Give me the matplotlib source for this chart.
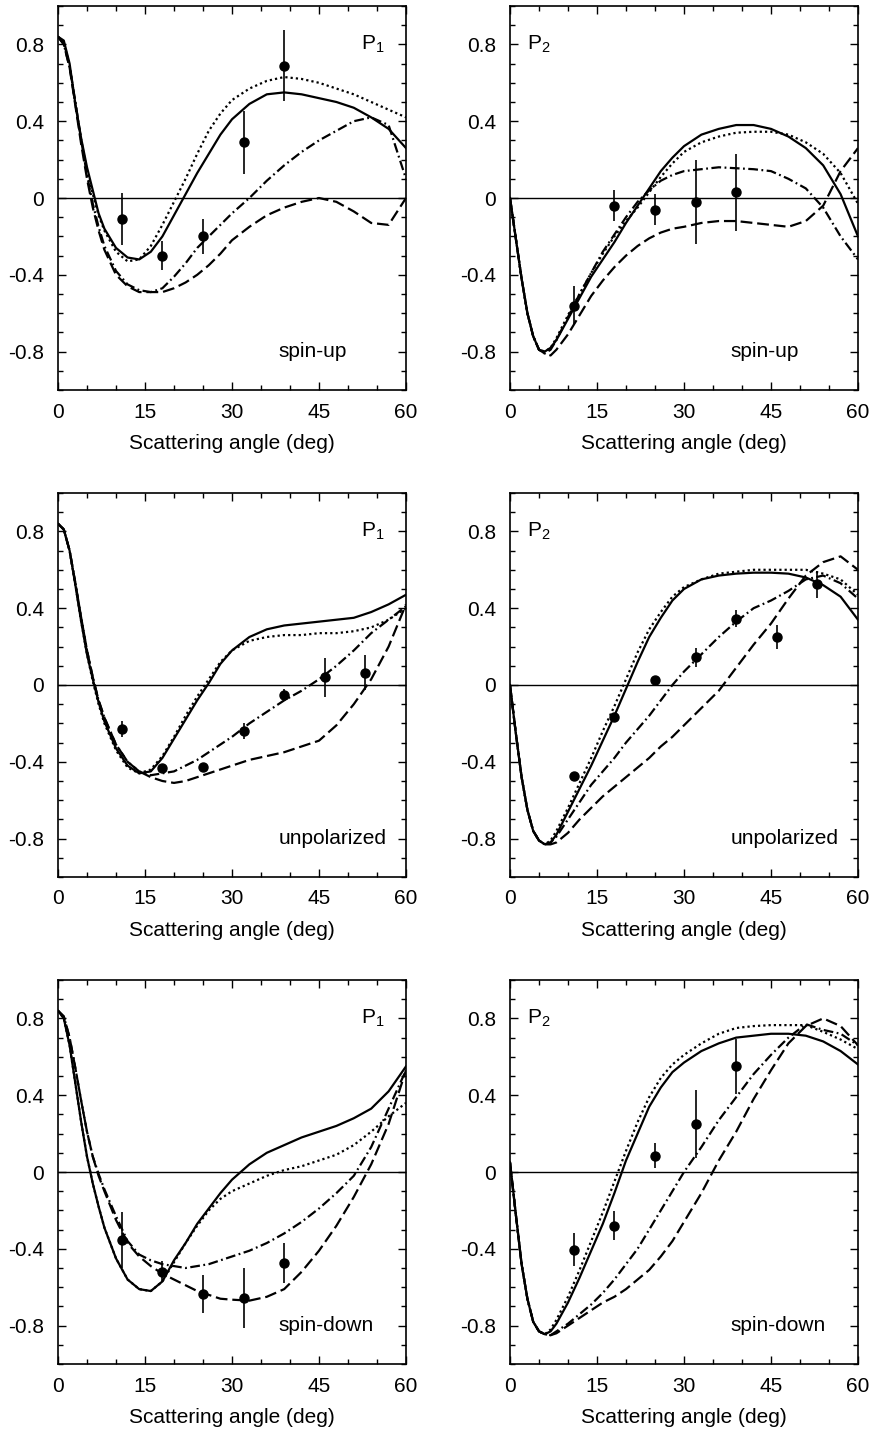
import matplotlib
matplotlib.use("Agg")
import matplotlib.pyplot as plt
from matplotlib.ticker import MultipleLocator

plt.rcParams['font.family'] = ['Liberation Sans', 'DejaVu Sans']
plt.rcParams['axes.unicode_minus'] = False
plt.rcParams['lines.scale_dashes'] = False

ang = [0, 1, 2, 3, 4, 5, 6, 7, 8, 10, 12, 14, 16, 18, 20, 22, 24, 26, 28, 30,
       33, 36, 39, 42, 45, 48, 51, 54, 57, 60]

# ---- spin-up, P1
up1_solid = [0.84, 0.82, 0.70, 0.49, 0.31, 0.16, 0.04, -0.08, -0.16, -0.26, -0.31, -0.32, -0.28, -0.20,
             -0.09, 0.02, 0.13, 0.23, 0.33, 0.41, 0.49, 0.54, 0.55, 0.54, 0.52, 0.50, 0.47, 0.42, 0.36, 0.26]
up1_dot = [0.84, 0.81, 0.69, 0.49, 0.30, 0.14, 0.02, -0.09, -0.17, -0.28, -0.33, -0.32, -0.25, -0.14,
           -0.02, 0.10, 0.23, 0.35, 0.44, 0.51, 0.57, 0.61, 0.63, 0.62, 0.60, 0.57, 0.54, 0.50, 0.46, 0.42]
up1_dashdot = [0.84, 0.80, 0.68, 0.50, 0.30, 0.12, -0.03, -0.15, -0.25, -0.38, -0.45, -0.48, -0.49, -0.47,
               -0.41, -0.34, -0.26, -0.20, -0.14, -0.08, 0.00, 0.09, 0.17, 0.24, 0.30, 0.35, 0.40, 0.42, 0.38, 0.10]
up1_dash = [0.84, 0.80, 0.68, 0.48, 0.28, 0.10, -0.05, -0.17, -0.27, -0.40, -0.46, -0.49, -0.49, -0.49,
            -0.47, -0.44, -0.40, -0.35, -0.29, -0.22, -0.15, -0.09, -0.05, -0.02, 0.00, -0.02, -0.07, -0.13, -0.14, 0.00]

# ---- spin-up, P2
up2_solid = [0.00, -0.21, -0.42, -0.60, -0.72, -0.79, -0.80, -0.78, -0.74, -0.63, -0.52, -0.41, -0.32, -0.23,
             -0.13, -0.04, 0.05, 0.14, 0.21, 0.27, 0.33, 0.36, 0.38, 0.38, 0.36, 0.32, 0.26, 0.17, 0.02, -0.20]
up2_dot = [0.00, -0.21, -0.42, -0.60, -0.72, -0.79, -0.80, -0.78, -0.73, -0.61, -0.50, -0.39, -0.29, -0.20,
           -0.12, -0.05, 0.03, 0.11, 0.18, 0.24, 0.29, 0.32, 0.34, 0.345, 0.345, 0.33, 0.29, 0.23, 0.13, -0.03]
up2_dashdot = [0.00, -0.21, -0.42, -0.60, -0.72, -0.79, -0.81, -0.79, -0.74, -0.62, -0.50, -0.39, -0.28, -0.19,
               -0.10, -0.02, 0.04, 0.09, 0.12, 0.14, 0.15, 0.16, 0.155, 0.15, 0.14, 0.10, 0.05, -0.05, -0.20, -0.32]
up2_dash = [0.00, -0.21, -0.42, -0.60, -0.72, -0.79, -0.81, -0.82, -0.79, -0.71, -0.61, -0.51, -0.43, -0.36,
            -0.30, -0.25, -0.21, -0.18, -0.16, -0.15, -0.13, -0.12, -0.12, -0.13, -0.14, -0.15, -0.12, -0.04, 0.14, 0.26]

# ---- unpolarized, P1
un1_solid = [0.84, 0.81, 0.70, 0.52, 0.33, 0.16, 0.03, -0.09, -0.19, -0.33, -0.42, -0.46, -0.45, -0.38,
             -0.28, -0.18, -0.08, 0.01, 0.11, 0.18, 0.25, 0.29, 0.31, 0.32, 0.33, 0.34, 0.35, 0.38, 0.42, 0.47]
un1_dot = [0.84, 0.81, 0.70, 0.52, 0.33, 0.16, 0.02, -0.10, -0.20, -0.34, -0.43, -0.46, -0.44, -0.37,
           -0.27, -0.16, -0.06, 0.03, 0.12, 0.18, 0.23, 0.25, 0.26, 0.26, 0.27, 0.27, 0.28, 0.30, 0.34, 0.40]
un1_dashdot = [0.84, 0.81, 0.70, 0.53, 0.35, 0.18, 0.04, -0.08, -0.17, -0.31, -0.40, -0.45, -0.47, -0.46,
               -0.45, -0.42, -0.39, -0.35, -0.31, -0.27, -0.20, -0.14, -0.08, -0.03, 0.03, 0.10, 0.18, 0.27, 0.34, 0.41]
un1_dash = [0.84, 0.81, 0.70, 0.53, 0.35, 0.18, 0.04, -0.08, -0.17, -0.31, -0.40, -0.45, -0.48, -0.50,
            -0.51, -0.50, -0.48, -0.46, -0.44, -0.42, -0.39, -0.37, -0.35, -0.32, -0.29, -0.21, -0.10, 0.03, 0.20, 0.42]

# ---- unpolarized, P2
un2_solid = [0.00, -0.25, -0.48, -0.65, -0.76, -0.81, -0.83, -0.82, -0.78, -0.66, -0.54, -0.42, -0.29, -0.16,
             -0.02, 0.12, 0.25, 0.35, 0.44, 0.50, 0.55, 0.57, 0.58, 0.585, 0.585, 0.58, 0.56, 0.52, 0.46, 0.34]
un2_dot = [0.00, -0.25, -0.48, -0.65, -0.76, -0.81, -0.83, -0.81, -0.76, -0.64, -0.51, -0.38, -0.24, -0.11,
           0.03, 0.17, 0.29, 0.38, 0.46, 0.51, 0.55, 0.58, 0.59, 0.60, 0.60, 0.60, 0.60, 0.58, 0.55, 0.47]
un2_dashdot = [0.00, -0.25, -0.48, -0.65, -0.76, -0.81, -0.83, -0.82, -0.79, -0.70, -0.61, -0.52, -0.45, -0.38,
               -0.30, -0.23, -0.16, -0.08, 0.00, 0.07, 0.16, 0.25, 0.33, 0.40, 0.44, 0.49, 0.55, 0.57, 0.53, 0.45]
un2_dash = [0.00, -0.25, -0.48, -0.65, -0.76, -0.81, -0.83, -0.83, -0.82, -0.77, -0.70, -0.64, -0.58, -0.53,
            -0.48, -0.43, -0.38, -0.32, -0.27, -0.21, -0.12, -0.03, 0.09, 0.21, 0.32, 0.45, 0.57, 0.64, 0.67, 0.60]

# ---- spin-down, P1
dn1_solid = [0.84, 0.80, 0.66, 0.46, 0.26, 0.08, -0.06, -0.18, -0.29, -0.45, -0.56, -0.61, -0.62, -0.57,
             -0.46, -0.37, -0.27, -0.19, -0.11, -0.04, 0.04, 0.10, 0.14, 0.18, 0.21, 0.24, 0.28, 0.33, 0.42, 0.55]
dn1_dot = [0.84, 0.80, 0.66, 0.46, 0.26, 0.08, -0.06, -0.18, -0.29, -0.45, -0.56, -0.61, -0.62, -0.57,
           -0.47, -0.37, -0.28, -0.20, -0.14, -0.10, -0.06, -0.02, 0.01, 0.03, 0.06, 0.09, 0.14, 0.21, 0.29, 0.36]
dn1_dashdot = [0.84, 0.81, 0.70, 0.54, 0.37, 0.21, 0.08, -0.01, -0.09, -0.23, -0.36, -0.43, -0.46, -0.48,
               -0.49, -0.50, -0.49, -0.48, -0.46, -0.44, -0.41, -0.37, -0.32, -0.26, -0.19, -0.11, -0.02, 0.13, 0.33, 0.53]
dn1_dash = [0.84, 0.81, 0.70, 0.54, 0.37, 0.21, 0.08, -0.02, -0.10, -0.25, -0.37, -0.44, -0.49, -0.53,
            -0.56, -0.59, -0.62, -0.64, -0.66, -0.665, -0.67, -0.65, -0.61, -0.52, -0.41, -0.28, -0.13, 0.04, 0.25, 0.53]

# ---- spin-down, P2
dn2_solid = [0.05, -0.22, -0.48, -0.66, -0.78, -0.83, -0.845, -0.83, -0.79, -0.68, -0.55, -0.41, -0.27, -0.11,
             0.06, 0.20, 0.34, 0.44, 0.52, 0.57, 0.63, 0.67, 0.70, 0.71, 0.72, 0.72, 0.71, 0.68, 0.63, 0.56]
dn2_dot = [0.05, -0.22, -0.48, -0.66, -0.78, -0.83, -0.845, -0.82, -0.77, -0.65, -0.51, -0.36, -0.21, -0.05,
           0.11, 0.26, 0.39, 0.49, 0.56, 0.61, 0.67, 0.72, 0.75, 0.76, 0.765, 0.765, 0.765, 0.73, 0.69, 0.64]
dn2_dashdot = [0.05, -0.22, -0.48, -0.66, -0.78, -0.83, -0.845, -0.85, -0.83, -0.79, -0.74, -0.69, -0.63, -0.56,
               -0.48, -0.40, -0.30, -0.20, -0.10, 0.00, 0.13, 0.27, 0.39, 0.51, 0.61, 0.70, 0.77, 0.74, 0.72, 0.66]
dn2_dash = [0.05, -0.22, -0.48, -0.66, -0.78, -0.83, -0.845, -0.85, -0.84, -0.80, -0.76, -0.72, -0.68, -0.65,
            -0.61, -0.56, -0.51, -0.44, -0.36, -0.26, -0.11, 0.06, 0.21, 0.38, 0.53, 0.67, 0.76, 0.80, 0.76, 0.66]

# ---- measured points
up_ang = [11, 18, 25, 32, 39]
up1_y = [-0.11, -0.30, -0.20, 0.29, 0.69]
up1_err = [0.135, 0.075, 0.09, 0.165, 0.185]
up2_y = [-0.56, -0.04, -0.06, -0.02, 0.03]
up2_err = [0.10, 0.08, 0.08, 0.22, 0.20]

un_ang = [11, 18, 25, 32, 39, 46, 53]
un1_y = [-0.23, -0.43, -0.425, -0.24, -0.05, 0.04, 0.065]
un1_err = [0.04, 0.015, 0.015, 0.04, 0.03, 0.10, 0.09]
un2_y = [-0.475, -0.165, 0.025, 0.145, 0.345, 0.25, 0.525]
un2_err = [0.015, 0.015, 0.015, 0.05, 0.045, 0.065, 0.07]

dn_ang = [11, 18, 25, 32, 39]
dn1_y = [-0.355, -0.52, -0.635, -0.655, -0.475]
dn1_err = [0.145, 0.055, 0.10, 0.155, 0.105]
dn2_y = [-0.405, -0.28, 0.085, 0.25, 0.55]
dn2_err = [0.085, 0.075, 0.065, 0.175, 0.145]

panels = [
    (up1_solid, up1_dot, up1_dashdot, up1_dash, up_ang, up1_y, up1_err, 1, 'spin-up'),
    (up2_solid, up2_dot, up2_dashdot, up2_dash, up_ang, up2_y, up2_err, 2, 'spin-up'),
    (un1_solid, un1_dot, un1_dashdot, un1_dash, un_ang, un1_y, un1_err, 1, 'unpolarized'),
    (un2_solid, un2_dot, un2_dashdot, un2_dash, un_ang, un2_y, un2_err, 2, 'unpolarized'),
    (dn1_solid, dn1_dot, dn1_dashdot, dn1_dash, dn_ang, dn1_y, dn1_err, 1, 'spin-down'),
    (dn2_solid, dn2_dot, dn2_dashdot, dn2_dash, dn_ang, dn2_y, dn2_err, 2, 'spin-down'),
]

fig = plt.figure(figsize=(8.74, 14.32), dpi=100)
lefts = [58 / 874, 510 / 874]
bottoms = [1 - 390 / 1432, 1 - 877 / 1432, 1 - 1364 / 1432]
w = 348 / 874
h = 384 / 1432

lw = 1.6
for i, (s, d, dd, da, xa, ya, ea, k, lab) in enumerate(panels):
    ax = fig.add_axes([lefts[i % 2], bottoms[i // 2], w, h])
    ax.axhline(0, color='black', lw=1.0)
    ax.plot(ang, s, color='black', lw=lw, ls='-')
    ax.plot(ang, d, color='black', lw=lw, ls=(0, (1.6, 2.2)))
    ax.plot(ang, dd, color='black', lw=lw, ls=(0, (7, 2.5, 1.3, 2.5)))
    ax.plot(ang, da, color='black', lw=lw, ls=(0, (8.5, 3.5)))
    ax.errorbar(xa, ya, yerr=ea, fmt='o', color='black', ms=6.5, elinewidth=1.2, capsize=0)

    ax.set_xlim(0, 60)
    ax.set_ylim(-1, 1)
    ax.set_xticks([0, 15, 30, 45, 60])
    ax.xaxis.set_minor_locator(MultipleLocator(5))
    ax.set_yticks([-0.8, -0.4, 0, 0.4, 0.8])
    ax.set_yticklabels(['-0.8', '-0.4', '0', '0.4', '0.8'])
    ax.yaxis.set_minor_locator(MultipleLocator(0.1))
    ax.tick_params(which='both', direction='in', top=True, right=True, labelsize=15, width=1.0)
    ax.tick_params(which='major', length=6)
    ax.tick_params(which='minor', length=3.5)
    ax.tick_params(axis='x', which='major', pad=9)
    ax.tick_params(axis='y', which='major', pad=10)
    for sp in ax.spines.values():
        sp.set_linewidth(1.2)
    ax.set_xlabel('Scattering angle (deg)', fontsize=15, labelpad=9)

    if k == 1:
        ax.text(52.3, 0.8, r'P$_\mathregular{1}$', fontsize=15, ha='left', va='center')
    else:
        ax.text(3.0, 0.8, r'P$_\mathregular{2}$', fontsize=15, ha='left', va='center')
    ax.text(38.0, -0.8, lab, fontsize=15, ha='left', va='center')

fig.savefig('out.png', dpi=100)
